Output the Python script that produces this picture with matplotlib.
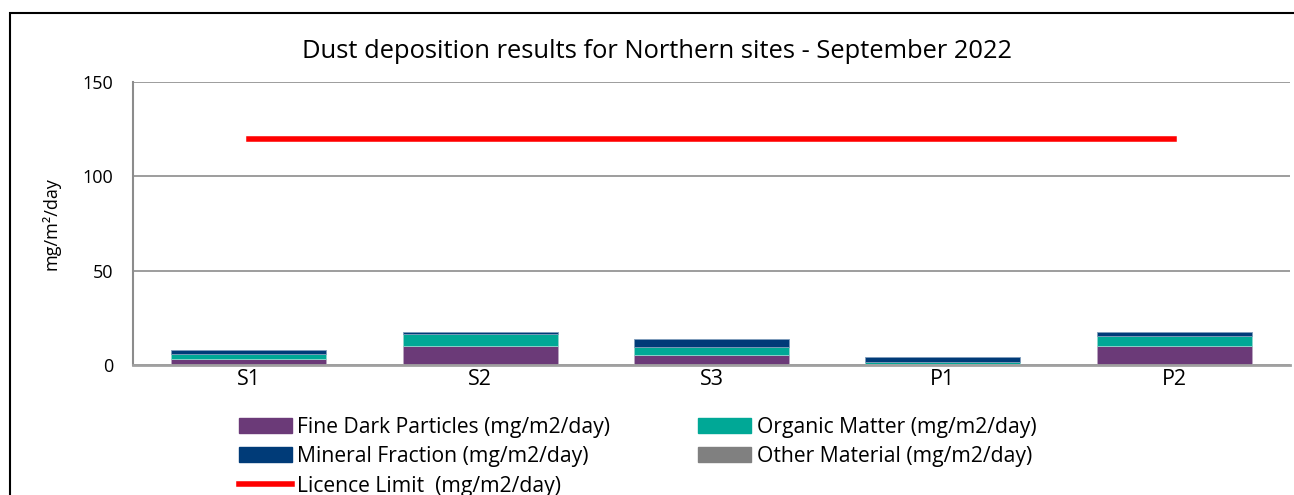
import matplotlib.pyplot as plt
import matplotlib.patches as mpatches
from matplotlib.lines import Line2D
import numpy as np

plt.rcParams['font.family'] = ['Open Sans', 'DejaVu Sans']

# data
sites = ["S1", "S2", "S3", "P1", "P2"]
fine_dark = [2.9, 9.9, 5.1, 0.4, 10.2]
organic = [2.7, 6.6, 4.4, 1.0, 5.3]
mineral = [2.5, 0.9, 4.2, 2.6, 1.8]
other = [0.0, 0.0, 0.0, 0.0, 0.0]
licence = [120, 120, 120, 120, 120]

c_fine = "#6B3A78"
c_org = "#00A896"
c_min = "#003B78"
c_oth = "#808080"

fig = plt.figure(figsize=(12.94, 4.95), dpi=100)
ax = fig.add_axes([0.1028, 0.263, 0.894, 0.571])

x = np.arange(len(sites))
w = 0.67
b1 = np.array(fine_dark)
b2 = b1 + np.array(organic)
b3 = b2 + np.array(mineral)
ax.bar(x, fine_dark, w, color=c_fine, edgecolor="#B9A6C0", linewidth=0.6, zorder=3)
ax.bar(x, organic, w, bottom=b1, color=c_org, edgecolor="#8FD6CC", linewidth=0.6, zorder=3)
ax.bar(x, mineral, w, bottom=b2, color=c_min, edgecolor="#7F9CBB", linewidth=0.6, zorder=3)
ax.bar(x, other, w, bottom=b3, color=c_oth, zorder=3)
ax.plot(x, licence, color="#FF0000", linewidth=4, zorder=4)

ax.set_xlim(-0.5, len(sites) - 0.5)
ax.set_ylim(0, 150)
ax.set_yticks([0, 50, 100, 150])
ax.set_xticks(x)
ax.set_xticklabels(sites)
ax.tick_params(axis="x", length=0, labelsize=15.5, pad=3)
ax.tick_params(axis="y", length=0, labelsize=13, pad=14)
ax.yaxis.grid(True, color="#8C8C8C", linewidth=1.2, zorder=0)
for s in ["top", "right"]:
    ax.spines[s].set_visible(False)
ax.spines["left"].set_color("#8C8C8C")
ax.spines["left"].set_linewidth(1.5)
ax.spines["bottom"].set_color("#A0A0A0")
ax.spines["bottom"].set_linewidth(2)
ax.spines["bottom"].set_zorder(5)
ax.set_ylabel("mg/m²/day", fontsize=13, labelpad=16)

fig.text(0.508, 0.895, "Dust deposition results for Northern sites - September 2022",
         ha="center", va="center", fontsize=18.4)

# legend (rows: Fine/Organic, Mineral/Other, Licence)
handles = [
    mpatches.Patch(color=c_fine, label="Fine Dark Particles (mg/m2/day)"),
    mpatches.Patch(color=c_min, label="Mineral Fraction (mg/m2/day)"),
    Line2D([0], [0], color="#FF0000", linewidth=4, label="Licence Limit  (mg/m2/day)"),
    mpatches.Patch(color=c_org, label="Organic Matter (mg/m2/day)"),
    mpatches.Patch(color=c_oth, label="Other Material (mg/m2/day)"),
]
fig.legend(handles=handles, ncol=2, loc="upper left", bbox_to_anchor=(0.178, 0.175),
           frameon=False, fontsize=15.2, handlelength=2.5, handleheight=0.7,
           handletextpad=0.25, columnspacing=4.2, labelspacing=0.4, borderaxespad=0)

# outer border
fig.patches.append(mpatches.Rectangle((0.008, -0.01), 1.1, 0.984, transform=fig.transFigure,
                                      fill=False, edgecolor="black", linewidth=1.5))

plt.savefig("out.png", dpi=100)
